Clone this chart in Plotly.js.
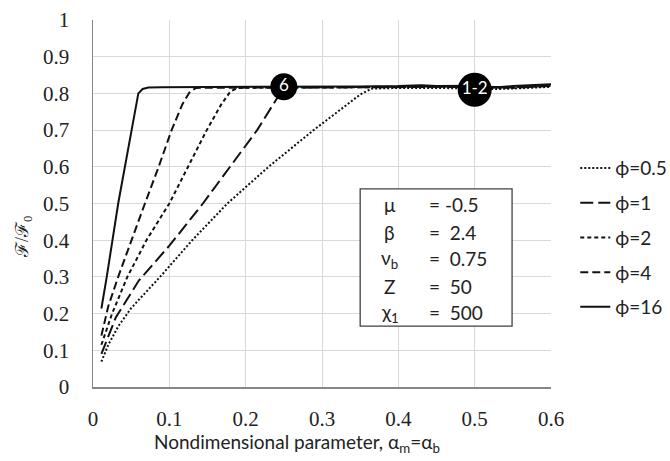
<!DOCTYPE html>
<html>
<head>
<meta charset="utf-8">
<script src="https://cdn.plot.ly/plotly-3.0.1.min.js"></script>
<style>html,body{margin:0;padding:0;background:#fff;}#chart{width:670px;height:461px;}</style>
</head>
<body>
<div id="chart"></div>
<script>
// ---- data ----
const seriesNames = ["ϕ=0.5", "ϕ=1", "ϕ=2", "ϕ=4", "ϕ=16"];

const phi05_x = [0.011, 0.02, 0.033, 0.05, 0.07, 0.09, 0.13, 0.176, 0.23, 0.289, 0.33, 0.35, 0.365, 0.4, 0.45, 0.5, 0.53, 0.56, 0.6];
const phi05_y = [0.069, 0.115, 0.165, 0.215, 0.26, 0.305, 0.40, 0.50, 0.60, 0.70, 0.765, 0.797, 0.813, 0.815, 0.815, 0.814, 0.812, 0.814, 0.818];

const phi1_x = [0.011, 0.03, 0.06, 0.1, 0.144, 0.18, 0.215, 0.245, 0.26, 0.3, 0.35, 0.4, 0.45, 0.5, 0.55, 0.6];
const phi1_y = [0.09, 0.19, 0.29, 0.385, 0.50, 0.60, 0.70, 0.80, 0.816, 0.816, 0.817, 0.817, 0.818, 0.817, 0.816, 0.82];

const phi2_x = [0.011, 0.025, 0.045, 0.07, 0.1, 0.125, 0.149, 0.168, 0.18, 0.19, 0.25, 0.3, 0.35, 0.4, 0.45, 0.5, 0.55, 0.6];
const phi2_y = [0.115, 0.20, 0.30, 0.40, 0.50, 0.60, 0.70, 0.77, 0.805, 0.815, 0.815, 0.816, 0.816, 0.817, 0.818, 0.816, 0.815, 0.821];

const phi4_x = [0.011, 0.02, 0.033, 0.05, 0.068, 0.086, 0.103, 0.117, 0.127, 0.135, 0.2, 0.25, 0.3, 0.35, 0.4, 0.45, 0.5, 0.55, 0.6];
const phi4_y = [0.14, 0.22, 0.30, 0.40, 0.50, 0.60, 0.70, 0.77, 0.805, 0.815, 0.816, 0.817, 0.817, 0.818, 0.819, 0.819, 0.818, 0.817, 0.822];

const phi16_x = [0.011, 0.018, 0.033, 0.05, 0.0594, 0.065, 0.0725, 0.09, 0.15, 0.2, 0.25, 0.3, 0.35, 0.4, 0.43, 0.45, 0.5, 0.53, 0.55, 0.6];
const phi16_y = [0.214, 0.30, 0.50, 0.70, 0.80, 0.812, 0.816, 0.817, 0.817, 0.818, 0.818, 0.819, 0.819, 0.82, 0.822, 0.82, 0.821, 0.817, 0.82, 0.825];

const markerX = [0.25, 0.5];
const markerY = [0.818, 0.81];
const markerLabels = ["6", "1-2"];

const xTicks = [0, 0.1, 0.2, 0.3, 0.4, 0.5, 0.6];
const yTicks = [0, 0.1, 0.2, 0.3, 0.4, 0.5, 0.6, 0.7, 0.8, 0.9, 1];

const paramSymbols = ["μ", "β", "ν<sub>b</sub>", "Z", "χ<sub>1</sub>"];
const paramValues = ["= -0.5", "=\u00a0\u00a02.4", "=\u00a0\u00a00.75", "=\u00a0\u00a050", "=\u00a0\u00a0500"];

// ---- styling ----
const sansFont = "Lato, Carlito, Noto Sans, sans-serif";
const serifFont = "Liberation Serif, Times New Roman, serif";
const ink = "#111111";

const seriesX = [phi05_x, phi1_x, phi2_x, phi4_x, phi16_x];
const seriesY = [phi05_y, phi1_y, phi2_y, phi4_y, phi16_y];
const dashes = ["2px,2px", "13px,5px", "4px,3px", "8px,4px", "solid"];

const traces = seriesNames.map((name, i) => ({
  type: "scatter", mode: "lines", name: name,
  x: seriesX[i], y: seriesY[i],
  line: {color: ink, width: 2, dash: dashes[i]},
  legendgroup: "g" + i,
  hoverinfo: "skip"
}));

traces.push({
  type: "scatter", mode: "markers+text", showlegend: false,
  x: markerX, y: markerY, text: markerLabels,
  textposition: "middle center",
  textfont: {family: sansFont, size: 17, color: "#ffffff"},
  marker: {color: "#000000", size: [27, 34], opacity: 1, line: {width: 0}},
  opacity: 1,
  hoverinfo: "skip"
});

const rowY = [0.496, 0.420, 0.349, 0.275, 0.202];
const annotations = [];
paramSymbols.forEach((s, i) => {
  annotations.push({x: 0.389, y: rowY[i], xref: "x", yref: "y", text: s, showarrow: false,
    xanchor: "center", yanchor: "middle", font: {family: sansFont, size: 19, color: "#222"}});
  annotations.push({x: 0.437, y: rowY[i], xref: "x", yref: "y", text: paramValues[i], showarrow: false,
    xanchor: "left", yanchor: "middle", font: {family: sansFont, size: 19, color: "#222"}});
});
annotations.push({
  x: 0.445, y: -0.153, xref: "paper", yref: "paper",
  text: "Nondimensional parameter, α<sub>m</sub>=α<sub>b</sub>",
  showarrow: false, xanchor: "center", yanchor: "middle",
  font: {family: sansFont, size: 19, color: "#222"}
});
annotations.push({
  x: -0.152, y: 0.41, xref: "paper", yref: "paper",
  text: "ℱ/ℱ<sub>0</sub>", textangle: -90,
  showarrow: false, xanchor: "center", yanchor: "middle",
  font: {family: serifFont, size: 18, color: "#222"}
});

const layout = {
  width: 670, height: 461,
  margin: {l: 93, r: 119, t: 20, b: 74, pad: 0, autoexpand: false},
  paper_bgcolor: "#ffffff", plot_bgcolor: "#ffffff",
  showlegend: true,
  legend: {
    x: 1.053, xanchor: "left", y: 0.648, yanchor: "top",
    font: {family: sansFont, size: 19, color: "#222"},
    tracegroupgap: 7, itemwidth: 30, bgcolor: "rgba(0,0,0,0)",
    traceorder: "grouped"
  },
  xaxis: {
    range: [0, 0.6], tickvals: xTicks, ticktext: xTicks.map(String),
    showgrid: true, gridcolor: "#d9d9d9", gridwidth: 1,
    zeroline: false, showline: true, linecolor: "#868686", linewidth: 1.5,
    ticks: "", ticklabelstandoff: 12,
    tickfont: {family: serifFont, size: 21, color: "#222"},
    fixedrange: true
  },
  yaxis: {
    range: [0, 1], tickvals: yTicks, ticktext: yTicks.map(String),
    showgrid: true, gridcolor: "#d9d9d9", gridwidth: 1,
    zeroline: false, showline: true, linecolor: "#868686", linewidth: 1.5,
    ticks: "", ticklabelstandoff: 18,
    tickfont: {family: serifFont, size: 21, color: "#222"},
    fixedrange: true
  },
  shapes: [{
    type: "rect", xref: "x", yref: "y", x0: 0.35, x1: 0.549, y0: 0.166, y1: 0.54,
    fillcolor: "#ffffff", line: {color: "#404040", width: 1.3}, layer: "above"
  }],
  annotations: annotations
};

Plotly.newPlot("chart", traces, layout, {displayModeBar: false, staticPlot: true});
</script>
</body>
</html>
